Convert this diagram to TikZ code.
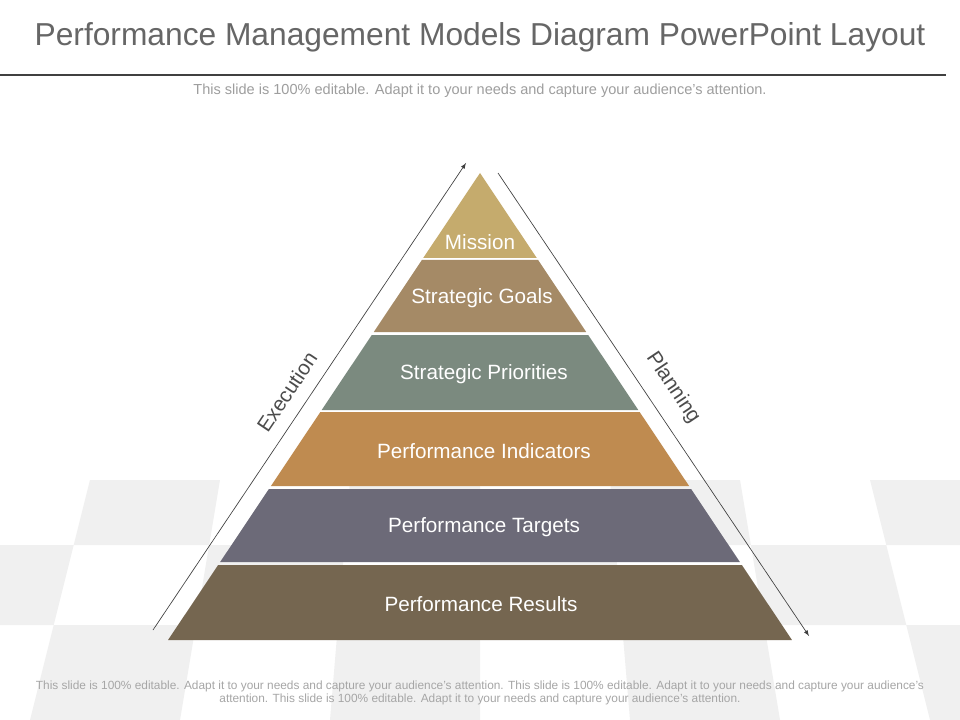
\documentclass[tikz,border=0pt]{standalone}
\usepackage{fontspec}
\setmainfont{Liberation Sans}
\definecolor{tile}{HTML}{F0F0F0}
\definecolor{cMis}{HTML}{C5AB6D}
\definecolor{cGoal}{HTML}{A58A66}
\definecolor{cPri}{HTML}{7B8A7F}
\definecolor{cInd}{HTML}{BF8B50}
\definecolor{cTar}{HTML}{6C6A78}
\definecolor{cRes}{HTML}{756650}
\tikzset{
  lay/.style={text=white,font=\fontsize{15.5}{17}\selectfont},
  side/.style={text=black!70,font=\fontsize{15.5}{17}\selectfont},
  arr/.style={draw=black!75,line width=0.5pt,-latex},
}
\begin{document}
\begin{tikzpicture}[x=0.75pt,y=-0.75pt]
\useasboundingbox (0,0) rectangle (960,720);
\fill[white] (0,0) rectangle (960,720);
% checker floor
\def\tx#1#2{480+(#1-480)*(0.8667+0.1333*(#2-480)/240)}
\foreach \k/\r in {0/1,2/1,4/1,6/1,-1/2,1/2,3/2,5/2,0/3,2/3,4/3,6/3}{
  \pgfmathsetmacro\ya{\r==1?480:(\r==2?545:625)}
  \pgfmathsetmacro\yb{\r==1?545:(\r==2?625:720)}
  \pgfmathsetmacro\xa{30+150*\k}
  \pgfmathsetmacro\xb{180+150*\k}
  \pgfmathsetmacro\pa{\tx{\xa}{\ya}}
  \pgfmathsetmacro\pb{\tx{\xb}{\ya}}
  \pgfmathsetmacro\pc{\tx{\xb}{\yb}}
  \pgfmathsetmacro\pd{\tx{\xa}{\yb}}
  \fill[tile] (\pa,\ya) -- (\pb,\ya) -- (\pc,\yb) -- (\pd,\yb) -- cycle;
}
% title
\node[text=black!60,font=\fontsize{23.8}{26}\selectfont] (title) at (480,37) {Performance Management Models Diagram PowerPoint Layout};
\draw[black!75,line width=1.5pt] (0,75) -- (946,75);
\node[text=black!38,font=\fontsize{10.9}{12}\selectfont] (sub) at (480,91) {This slide is 100\% editable. Adapt it to your needs and capture your audience's attention.};
\node[text=black!35,font=\fontsize{8.9}{10.3}\selectfont,align=center] (foot) at (480,693) {This slide is 100\% editable. Adapt it to your needs and capture your audience's attention. This slide is 100\% editable. Adapt it to your needs and capture your audience's\\attention. This slide is 100\% editable. Adapt it to your needs and capture your audience's attention.};
% pyramid
\foreach \ya/\yb/\c/\nm/\t in {173/258/cMis/mis/Mission,260/332/cGoal/goal/Strategic Goals,335/410/cPri/pri/Strategic Priorities,412/486/cInd/ind/Performance Indicators,489/562/cTar/tar/Performance Targets,565/640/cRes/res/Performance Results}{
  \pgfmathsetmacro\wa{0.668*(\ya-173)}
  \pgfmathsetmacro\wb{0.668*(\yb-173)}
  \fill[\c] (480-\wa,\ya) -- (480+\wa,\ya) -- (480+\wb,\yb) -- (480-\wb,\yb) -- cycle;
}
\node[lay] (mis) at (480,242) {Mission};
\node[lay] (goal) at (482,298) {Strategic Goals};
\node[lay] (pri) at (484,374) {Strategic Priorities};
\node[lay] (ind) at (484,451) {Performance Indicators};
\node[lay] (tar) at (484,527) {Performance Targets};
\node[lay] (res) at (481,604) {Performance Results};
% arrows
\coordinate (e0) at (153,630); \coordinate (e1) at (466,163);
\coordinate (p0) at (498,173); \coordinate (p1) at (809,636);
\draw[arr] (e0) -- (e1);
\draw[arr] (p0) -- (p1);
\node[side,rotate=56.2] (exe) at (287,392) {Execution};
\node[side,rotate=-56.2] (plan) at (673,388) {Planning};
\end{tikzpicture}
\end{document}
